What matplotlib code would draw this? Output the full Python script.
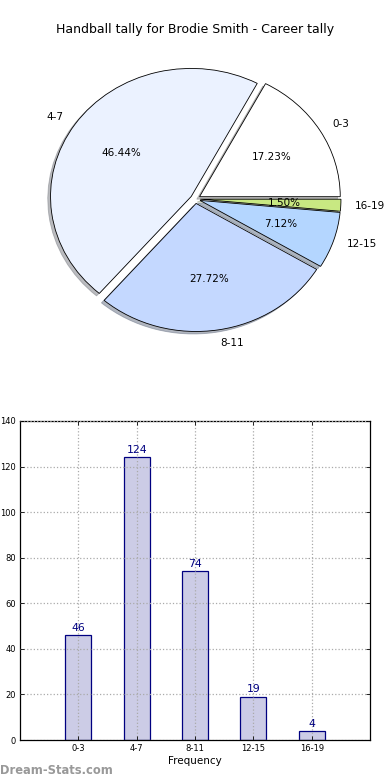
import matplotlib
matplotlib.use("Agg")
import matplotlib.pyplot as plt
import numpy as np

categories = ["0-3", "4-7", "8-11", "12-15", "16-19"]
values = [46, 124, 74, 19, 4]
pie_colors = ["#ffffff", "#ebf2ff", "#c4d8ff", "#b4d6ff", "#c8e882"]
title = "Handball tally for Brodie Smith - Career tally"
yticks = [0, 20, 40, 60, 80, 100, 120, 140]

fig = plt.figure(figsize=(3.9, 7.8), dpi=100)
fig.patch.set_facecolor("white")

# Pie
w, h = 0.866, 0.394
cx, cy = 195.3 / 390, 1 - 199 / 780
axp = fig.add_axes([cx - w / 2, cy - h / 2, w, h])
wedges, texts, autotexts = axp.pie(
    values, labels=categories, colors=pie_colors, explode=[0.035] * 5,
    autopct="%.2f%%", shadow=dict(ox=-0.014, oy=-0.014, shade=0.5),
    startangle=0, counterclock=True,
    wedgeprops=dict(edgecolor="black", linewidth=0.6),
    textprops=dict(fontsize=7.5))
axp.set_aspect("auto")
axp.set_xlim(-1.2, 1.2)
axp.set_ylim(-1.2, 1.2)
fig.text(0.5, 1 - 30 / 780, title, ha="center", va="center", fontsize=9)

# Bars
axb = fig.add_axes([20 / 390, 1 - 740 / 780, 350 / 390, 319 / 780])
x = np.arange(1, len(values) + 1)
bars = axb.bar(x, values, width=0.45, color="#cccce6", edgecolor="#000080", linewidth=0.9)
for xi, v in zip(x, values):
    axb.text(xi, v + 1, str(v), ha="center", va="bottom", fontsize=7.8, color="#000080")
axb.set_xlim(0, 6)
axb.set_ylim(0, 140)
axb.set_xticks(x)
axb.set_xticklabels(categories, fontsize=6)
axb.set_yticks(yticks)
axb.set_yticklabels([str(t) for t in yticks], fontsize=6)
axb.tick_params(direction="in", top=True, right=True, length=3, width=0.6, pad=3)
axb.grid(True, linestyle=":", color="#aaaaaa", linewidth=0.9)
axb.set_axisbelow(False)
axb.set_xlabel("Frequency", fontsize=7.5, labelpad=2)
for s in axb.spines.values():
    s.set_linewidth(0.9)

fig.text(0.0, 1 - 770 / 780, "Dream-Stats.com", ha="left", va="center",
         fontsize=8.3, fontweight="bold", color="#999999")

fig.savefig("out.png", dpi=100)
